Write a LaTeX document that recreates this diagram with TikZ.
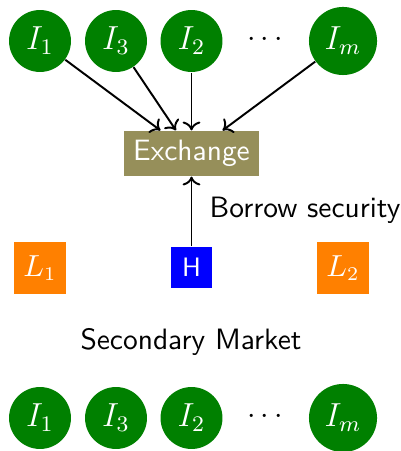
\documentclass[tikz,border=0pt]{standalone}
\usepackage{tikz}
\usetikzlibrary{arrows.meta}
\definecolor{exfill}{RGB}{150,143,90}
\definecolor{invgreen}{RGB}{0,128,0}
\definecolor{lorange}{RGB}{255,128,0}
\tikzset{
  inv/.style={circle, fill=invgreen, text=white, minimum size=22.3pt, inner sep=0pt, font=\fontsize{12}{14}\selectfont},
  invwide/.style={inv, minimum size=24.5pt},
  exbox/.style={rectangle, fill=exfill, text=white, minimum width=48.6pt, minimum height=16.2pt, inner sep=0pt, font=\sffamily\fontsize{10.6}{12.5}\selectfont},
  hbox/.style={rectangle, fill=blue, text=white, minimum size=14.8pt, inner sep=0pt, font=\sffamily\fontsize{9.6}{11}\selectfont},
  lbox/.style={rectangle, fill=lorange, text=white, minimum size=18.7pt, inner sep=0pt, font=\fontsize{10.5}{12}\selectfont},
  lbl/.style={font=\sffamily\fontsize{10.6}{12.5}\selectfont, inner sep=0pt},
  conn/.style={-{To[length=3.2pt,width=6.4pt]}, line width=0.7pt}
}
\begin{document}
\begin{tikzpicture}[x=0.36pt, y=-0.36pt]
\useasboundingbox (0,0) rectangle (400,451);
% top row
\node[inv] (t1) at (40,41) {$I_1$};
\node[inv] (t3) at (116,41) {$I_3$};
\node[inv] (t2) at (191.5,41) {$I_2$};
\node[font=\fontsize{11}{13}\selectfont] (tdots) at (265,40) {$\cdots$};
\node[invwide] (tm) at (343,41) {$I_m$};
% exchange
\node[exbox] (ex) at (191.5,153.5) {Exchange};
\draw[conn] (t1) -- (ex);
\draw[conn] (t3) -- (ex);
\draw[conn] (t2) -- (ex);
\draw[conn] (tm) -- (ex);
% middle
\node[hbox] (h) at (191.5,267.5) {H};
\node[lbox] (l1) at (40,268) {$L_1$};
\node[lbox] (l2) at (343,268) {$L_2$};
\draw[conn] (h) -- (ex);
\node[lbl] (borrow) at (305,210) {Borrow security};
\node[lbl] (sec) at (191,342) {Secondary Market};
% bottom row
\node[inv] (b1) at (40,418) {$I_1$};
\node[inv] (b3) at (116,418) {$I_3$};
\node[inv] (b2) at (191.5,418) {$I_2$};
\node[font=\fontsize{11}{13}\selectfont] (bdots) at (265,417) {$\cdots$};
\node[invwide] (bm) at (343,418) {$I_m$};
\end{tikzpicture}
\end{document}
